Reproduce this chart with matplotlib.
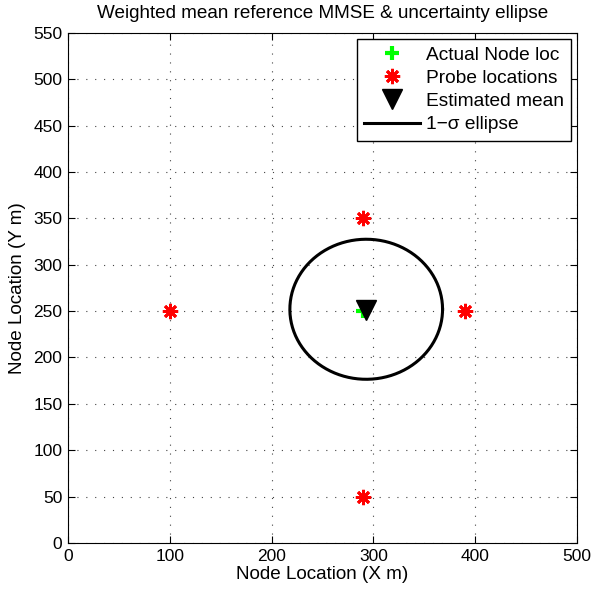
import numpy as np
import matplotlib.pyplot as plt

plt.rcParams['font.family'] = ['Liberation Sans', 'DejaVu Sans']

# data
actual_node = (290, 250)
probe_x = [100, 290, 390, 290]
probe_y = [250, 350, 250, 50]
est_mean = (293, 251)
ell_center = (293, 252)
ell_radii = (75, 75.5)

x_ticks = [0, 100, 200, 300, 400, 500]
y_ticks = list(range(0, 551, 50))

fig = plt.figure(figsize=(5.96, 5.98), dpi=100)
ax = fig.add_axes([0.114, 0.092, 0.854, 0.853])

t = np.linspace(0, 2 * np.pi, 300)
ax.plot(actual_node[0], actual_node[1], '+', color='#00ff00', ms=10, mew=3,
        label='Actual Node loc', zorder=3)
ax.plot(probe_x, probe_y, marker=(8, 2, 0), color='red', ms=11, mew=2, ls='none',
        label='Probe locations', zorder=3)
ax.plot(est_mean[0], est_mean[1], 'v', color='black', ms=15, ls='none',
        label='Estimated mean', zorder=4)
ax.plot(ell_center[0] + ell_radii[0] * np.cos(t), ell_center[1] + ell_radii[1] * np.sin(t),
        color='black', lw=2.2, label='1\u2212\u03c3 ellipse')

ax.set_xlim(0, 500)
ax.set_ylim(0, 550)
ax.set_xticks(x_ticks)
ax.set_yticks(y_ticks)
ax.tick_params(direction='in', labelsize=12.5, top=True, right=True, length=5, pad=4)
ax.grid(True, ls=(0, (1, 7)), color='#444444', lw=0.8)
ax.set_xlabel('Node Location (X m)', fontsize=13.6, labelpad=2)
ax.set_ylabel('Node Location (Y m)', fontsize=13.6, labelpad=5)
ax.set_title('Weighted mean reference MMSE & uncertainty ellipse', fontsize=13.6, pad=11)

leg = ax.legend(loc='upper right', fontsize=13.8, fancybox=False, framealpha=1,
                edgecolor='black', borderpad=0.4, labelspacing=0.3, handlelength=2.9,
                handletextpad=0.3, borderaxespad=0.3)
leg.get_frame().set_linewidth(1.0)

fig.savefig('out.png', dpi=100)
